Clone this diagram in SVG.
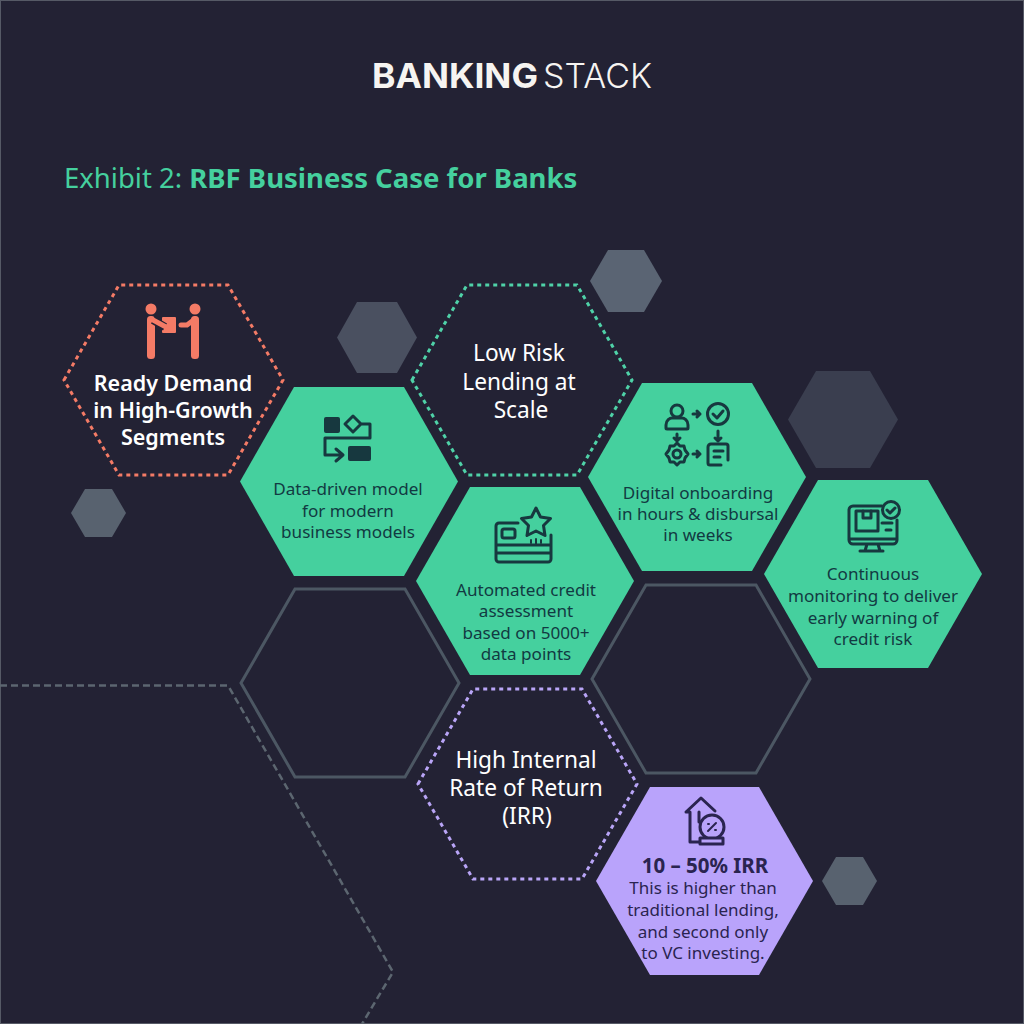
<svg xmlns="http://www.w3.org/2000/svg" width="1024" height="1024" viewBox="0 0 1024 1024">
<style>
text{font-family:"Noto Sans","Open Sans","DejaVu Sans",sans-serif;text-anchor:middle}
.t{font-size:17.100px;fill:#123a42}
.p{font-size:17px;fill:#2a2450}
.w{font-size:22.700px;fill:#fff}
.wb{font-size:21.500px;fill:#fff;font-weight:600}
.ic{fill:none;stroke:#17383f;stroke-width:3;stroke-linecap:round;stroke-linejoin:round}
.sf{fill:#17383f}
.ip{fill:none;stroke:#2a2450;stroke-width:3;stroke-linecap:round;stroke-linejoin:round}
.dash{fill:none;stroke-width:3;stroke-dasharray:4 4}
.out{fill:none;stroke:#4c5763;stroke-width:3}
</style>
<rect width="1024" height="1024" fill="#232234"/>
<rect x="0.500" y="0.500" width="1023" height="1023" fill="none" stroke="#565a66" stroke-width="1"/>
<g id="logo">
<text x="372" y="88" textLength="166" lengthAdjust="spacingAndGlyphs" style="text-anchor:start;font-family:Inter,'Noto Sans',sans-serif;font-size:34px;font-weight:700;fill:#f6f4f1">BANKING</text>
<text x="543" y="88" textLength="109" lengthAdjust="spacingAndGlyphs" style="text-anchor:start;font-family:Inter,'Noto Sans',sans-serif;font-size:34px;font-weight:300;fill:#f6f4f1">STACK</text>
</g>
<g id="title"><text x="64" y="188" style="text-anchor:start;font-size:27.500px;fill:#45d09e">Exhibit 2: <tspan font-weight="700">RBF Business Case for Banks</tspan></text></g>
<g id="decor">
<polygon points="337,337.500 357,302 397,302 417,337.500 397,373 357,373" fill="#4a5060"/>
<polygon points="590,281 608,250 644,250 662,281 644,312 608,312" fill="#5a6473"/>
<polygon points="788,419.500 816,371 870,371 898,419.500 870,468 816,468" fill="#3a3e4f"/>
<polygon points="71,513 85,489 112,489 126,513 112,537 85,537" fill="#58626f"/>
<polygon points="822,881 836,857 863,857 877,881 863,905 836,905" fill="#58626f"/>
<path d="M0,685.500H228L393,972L362,1024" fill="none" stroke="#5c6670" stroke-width="2.500" stroke-dasharray="7 4"/>
</g>
<g id="outlines">
<polygon class="out" points="241,683 295,589 405,589 459,683 405,777 295,777"/>
<polygon class="out" points="592,679 646,585 756,585 810,679 756,773 646,773"/>
</g>
<g id="node-ready">
<polygon class="dash" stroke="#f47b66" points="64,380 119,285 228,285 283,380 228,475 119,475"/>
<g fill="#f47b66" stroke="none"><circle cx="151" cy="309" r="5.500"/><circle cx="195" cy="309" r="5.500"/>
<rect x="147" y="316" width="8" height="43" rx="3.500"/><rect x="191" y="316" width="8" height="43" rx="3.500"/>
<rect x="162" y="317" width="14" height="16" rx="1"/></g>
<path d="M153,320L165,327" stroke="#232234" stroke-width="8" fill="none"/>
<path d="M153,320L166,327M195,319L187,325H181" stroke="#f47b66" stroke-width="5" fill="none" stroke-linecap="round" stroke-linejoin="round"/>
<text class="wb" x="173" y="391">Ready Demand</text><text class="wb" x="173" y="418">in High-Growth</text><text class="wb" x="173" y="445">Segments</text>
</g>
<g id="node-lowrisk">
<polygon class="dash" stroke="#4fd2a8" points="412,380 467,285 577,285 632,380 577,475 467,475"/>
<text class="w" x="519" y="361">Low Risk</text><text class="w" x="519" y="390">Lending at</text><text class="w" x="521" y="418">Scale</text>
</g>
<g id="node-data">
<polygon fill="#45d09e" points="240,481.500 294,387 404,387 458,481.500 404,576 294,576"/>
<rect class="sf" x="324" y="417" width="16" height="16" rx="2"/><rect class="sf" x="348" y="446" width="23" height="15" rx="2"/>
<path class="ic" d="M353,416l-8,8l8,8l8,-8zM361,424h9v14h-45v17h18M336,449l7,6l-7,6"/>
<text class="t" x="348" y="495">Data-driven model</text><text class="t" x="348" y="517">for modern</text><text class="t" x="348" y="538">business models</text>
</g>
<g id="node-auto">
<polygon fill="#45d09e" points="416,581 470,487 580,487 634,581 580,675 470,675"/>
<path class="ic" d="M518,523h-19a3,3 0 0 0 -3,3v33a3,3 0 0 0 3,3h49a3,3 0 0 0 3,-3v-24M496,545h55M496,553h55"/>
<rect class="ic" x="502" y="529" width="13" height="9" rx="2"/>
<path class="ic" style="fill:#45d09e" d="M536,508l4.500,9l10,1.500l-7,7l1.500,10l-9,-4.500l-9,4.500l1.500,-10l-7,-7l10,-1.500z"/>
<path class="ic" style="stroke-width:2" d="M531,540v3M536,539v5M541,540v3"/>
<text class="t" x="526" y="596">Automated credit</text><text class="t" x="526" y="617">assessment</text><text class="t" x="526" y="639">based on 5000+</text><text class="t" x="526" y="660">data points</text>
</g>
<g id="node-digital">
<polygon fill="#45d09e" points="588,477 642,383 752,383 806,477 752,571 642,571"/>
<circle class="ic" cx="677" cy="411" r="6"/><path class="ic" d="M666,425c0,-5 4,-7 6,-7h10c2,0 6,2 6,7v3a1,1 0 0 1 -1,1h-20a1,1 0 0 1 -1,-1z"/>
<circle class="ic" cx="718" cy="414" r="10.500"/><path class="ic" d="M713,414l4,4l6,-7"/>
<path class="ic" d="M693,414h7M697,411l3,3l-3,3M677,434v7M674,438l3,3l3,-3M718,431v10M715,438l3,3l3,-3M693,454h7M697,451l3,3l-3,3"/>
<circle class="ic" cx="677" cy="454" r="4"/><path class="ic" d="M677,443l3,3h4l1,4l3,4l-3,4l-1,4h-4l-3,3l-3,-3h-4l-1,-4l-3,-4l3,-4l1,-4h4z"/>
<path class="ic" d="M728,460v-14a2,2 0 0 0 -2,-2h-15a3,3 0 0 0 -3,3v16a2,2 0 0 0 2,2h11M714,451h9M714,457h6"/>
<text class="t" x="698" y="499">Digital onboarding</text><text class="t" x="698" y="520">in hours &amp; disbursal</text><text class="t" x="698" y="541">in weeks</text>
</g>
<g id="node-monitor">
<polygon fill="#45d09e" points="764,574 818,480 928,480 982,574 928,668 818,668"/>
<path class="ic" d="M882,506h-29a4,4 0 0 0 -4,4v30a4,4 0 0 0 4,4h40a4,4 0 0 0 4,-4v-20M849,539h48M867,544l-2,7M878,544l2,7M860,551h23"/>
<rect class="ic" x="856" y="511" width="22" height="20"/><path class="ic" d="M863,511v7h8v-7"/><path class="ic" d="M882,523h10M886,530h5"/>
<circle cx="891" cy="510" r="8.500" fill="#45d09e" stroke="#17383f" stroke-width="3"/><path class="ic" d="M887,510l3,3l5,-5"/>
<text class="t" x="873" y="580">Continuous</text><text class="t" x="873" y="602">monitoring to deliver</text><text class="t" x="873" y="623.500">early warning of</text><text class="t" x="873" y="645">credit risk</text>
</g>
<g id="node-irr">
<polygon class="dash" stroke="#b9a5f7" points="418,784 473,689 582,689 637,784 582,879 473,879"/>
<text class="w" x="526" y="768">High Internal</text><text class="w" x="526" y="796">Rate of Return</text><text class="w" x="527" y="824">(IRR)</text>
</g>
<g id="node-return">
<polygon fill="#b9a3fb" points="596,881 650,787 759,787 813,881 759,975 650,975"/>
<path class="ip" d="M700,842H690V812H686L701,798L715,811M699,812V822"/>
<circle class="ip" cx="712" cy="827" r="12"/><rect class="ip" x="700" y="838" width="23" height="6" style="fill:#b9a3fb"/>
<path class="ip" style="stroke-width:2" d="M708,831l8,-8M708,824h1M715,830h1"/>
<text x="705" y="873" style="font-size:20.500px;font-weight:700;fill:#2a2450">10 – 50% IRR</text>
<text class="p" x="703" y="894">This is higher than</text><text class="p" x="703" y="916">traditional lending,</text><text class="p" x="703" y="938">and second only</text><text class="p" x="703" y="959">to VC investing.</text>
</g>
</svg>
